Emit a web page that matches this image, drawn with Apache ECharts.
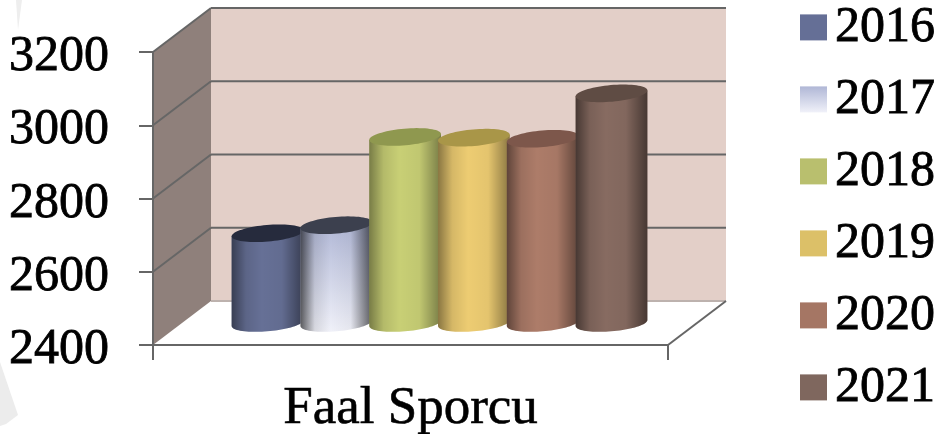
<!DOCTYPE html>
<html>
<head>
<meta charset="utf-8">
<title>Faal Sporcu</title>
<style>
  html, body { margin: 0; padding: 0; background: #fff; }
  #main { width: 951px; height: 434px; }
</style>
<script src="https://cdn.jsdelivr.net/npm/echarts@6/dist/echarts.min.js"></script>
</head>
<body>
<div id="main"></div>
<script>
var categories = ["Faal Sporcu"];
var years = ["2016", "2017", "2018", "2019", "2020", "2021"];
var values = [2645, 2667, 2908, 2906, 2903, 3027];
var yTicks = [2400, 2600, 2800, 3000, 3200];

var var2017 = new echarts.graphic.LinearGradient(0, 0, 0, 1, [
  { offset: 0, color: "#b0b7d6" },
  { offset: 1, color: "#f0f1f9" }
]);
// side colour, lid colour, edge shading of each cylinder
var barColors = [
  { base: "#667096", lid: "#262b3d", shade: 0.45, legend: "#656f96" },
  { base: var2017, lid: "#3c404e", shade: 0.62, legend: var2017 },
  { base: "#c8cf75", lid: "#8f984f", shade: 0.4, legend: "#b9bf6e" },
  { base: "#edcc72", lid: "#a99648", shade: 0.42, legend: "#dcc068" },
  { base: "#ad7c69", lid: "#7d574b", shade: 0.45, legend: "#a57664" },
  { base: "#876b61", lid: "#5f4c44", shade: 0.48, legend: "#7f675e" }
];

// oblique offset of the back wall, in pixels
var depthX = 58;
var depthY = -44;
var barStep = 68.8;
var barA = 36;
var barB = 8.3;
var barTilt = 5 * Math.PI / 180;

var lineColor = "#666666";
var labelFont = "Liberation Serif";
var chart = echarts.init(document.getElementById("main"));

function linePart(x1, y1, x2, y2, color) {
  return {
    type: "line",
    shape: { x1: x1, y1: y1, x2: x2, y2: y2 },
    style: { stroke: color || lineColor, lineWidth: 2, fill: null }
  };
}

function renderFrame(params, api) {
  var w = api.size([1, 0])[0];
  var cx = api.coord([0, yTicks[0]])[0];
  var left = cx - w / 2;
  var right = cx + w / 2;
  var bottom = api.coord([0, yTicks[0]])[1];
  var top = api.coord([0, yTicks[yTicks.length - 1]])[1];
  var children = [
    {
      type: "polygon",
      shape: { points: [[left, bottom], [left + depthX, bottom + depthY], [right + depthX, bottom + depthY], [right, bottom]] },
      style: { fill: "#ffffff" }
    },
    {
      type: "polygon",
      shape: { points: [[left + depthX, top + depthY], [right + depthX, top + depthY], [right + depthX, bottom + depthY], [left + depthX, bottom + depthY]] },
      style: { fill: "#e3cfc8" }
    },
    {
      type: "polygon",
      shape: { points: [[left, top], [left + depthX, top + depthY], [left + depthX, bottom + depthY], [left, bottom]] },
      style: { fill: "#8f807b" }
    }
  ];
  yTicks.slice(1).forEach(function (t) {
    var y = api.coord([0, t])[1];
    children.push(linePart(left, y, left + depthX, y + depthY));
    children.push(linePart(left + depthX, y + depthY, right + depthX, y + depthY));
  });
  children.push(linePart(left + depthX, bottom + depthY, right + depthX, bottom + depthY, "#bdb2ae"));
  children.push(linePart(left, top, left, bottom));
  children.push(linePart(left, bottom, right, bottom));
  children.push(linePart(right, bottom, right + depthX, bottom + depthY));
  return { type: "group", children: children };
}

// point on the tilted ellipse
function ellipsePoint(cx, cy, t) {
  return [
    cx + barA * Math.cos(t) * Math.cos(barTilt) + barB * Math.sin(t) * Math.sin(barTilt),
    cy - barA * Math.cos(t) * Math.sin(barTilt) + barB * Math.sin(t) * Math.cos(barTilt)
  ];
}

function makeRenderBar(index) {
  return function (params, api) {
    var c = barColors[index];
    var base = api.coord([0, yTicks[0]]);
    var head = api.coord([0, api.value(1)]);
    var cx = base[0] + depthX / 2 + (index - (years.length - 1) / 2) * barStep;
    var by = base[1] + depthY / 2;
    var ty = head[1] + depthY / 2;
    var t0 = Math.atan((barB / barA) * Math.tan(barTilt));
    var body = [ellipsePoint(cx, ty, t0)];
    var lid = [];
    var i;
    for (i = 0; i <= 40; i++) {
      body.push(ellipsePoint(cx, by, t0 + Math.PI * i / 40));
    }
    body.push(ellipsePoint(cx, ty, t0 + Math.PI));
    for (i = 0; i < 72; i++) {
      lid.push(ellipsePoint(cx, ty, Math.PI * 2 * i / 72));
    }
    return {
      type: "group",
      children: [
        { type: "polygon", shape: { points: body }, style: { fill: c.base } },
        {
          type: "polygon",
          shape: { points: body },
          style: {
            fill: new echarts.graphic.LinearGradient(0, 0, 1, 0, [
              { offset: 0, color: "rgba(0,0,0," + c.shade + ")" },
              { offset: 0.2, color: "rgba(0,0,0,0.1)" },
              { offset: 0.42, color: "rgba(0,0,0,0)" },
              { offset: 0.7, color: "rgba(0,0,0,0.04)" },
              { offset: 1, color: "rgba(0,0,0," + c.shade + ")" }
            ])
          }
        },
        { type: "polygon", shape: { points: lid }, style: { fill: c.lid } }
      ]
    };
  };
}

var series = [
  {
    name: "frame",
    type: "custom",
    silent: true,
    clip: false,
    z: 1,
    data: [[0, yTicks[0]]],
    renderItem: renderFrame
  }
];
years.forEach(function (year, i) {
  series.push({
    name: year,
    type: "custom",
    silent: true,
    clip: false,
    z: 2 + i,
    itemStyle: { color: barColors[i].legend },
    data: [[0, values[i]]],
    renderItem: makeRenderBar(i)
  });
});

chart.setOption({
  animation: false,
  backgroundColor: "#ffffff",
  textStyle: { fontFamily: labelFont },
  // faint slide watermark behind the chart
  graphic: [
    {
      type: "polygon",
      silent: true,
      z: -1,
      shape: { points: [[0, 362], [18, 415], [6, 424], [0, 426]] },
      style: { fill: "#ececec" }
    },
    {
      type: "polygon",
      silent: true,
      z: -1,
      shape: { points: [[16, 0], [22, 0], [18, 30]] },
      style: { fill: "#eeeeee" }
    }
  ],
  grid: { left: 153, top: 52, width: 515, height: 293, outerBoundsMode: "none" },
  legend: {
    data: years.map(function (y) { return { name: y, icon: "rect" }; }),
    orient: "vertical",
    left: 795,
    top: -3,
    itemWidth: 27,
    itemHeight: 26,
    itemGap: 21.2,
    itemStyle: { borderWidth: 0 },
    textStyle: {
      fontFamily: labelFont,
      fontSize: 50,
      color: "#000",
      textBorderColor: "#000",
      textBorderWidth: 0.8,
      padding: [0, 0, 0, 3]
    }
  },
  xAxis: {
    type: "category",
    data: categories,
    axisLine: { show: true, lineStyle: { color: lineColor, width: 2 } },
    axisTick: { show: true, length: 15, lineStyle: { color: lineColor, width: 2 } },
    axisLabel: { color: "#000", fontSize: 53, margin: 38, fontFamily: labelFont, textBorderColor: "#000", textBorderWidth: 0.6 },
    splitLine: { show: false }
  },
  yAxis: {
    type: "value",
    min: 2400,
    max: 3200,
    interval: 200,
    axisLine: { show: true, lineStyle: { color: lineColor, width: 2 } },
    axisTick: { show: true, length: 14, lineStyle: { color: lineColor, width: 2 } },
    axisLabel: {
      color: "#000",
      fontSize: 50,
      margin: 44,
      verticalAlign: "top",
      lineHeight: 10,
      fontFamily: labelFont,
      textBorderColor: "#000",
      textBorderWidth: 0.8,
      formatter: function (v) { return String(v); }
    },
    splitLine: { show: false }
  },
  series: series
});
</script>
</body>
</html>
